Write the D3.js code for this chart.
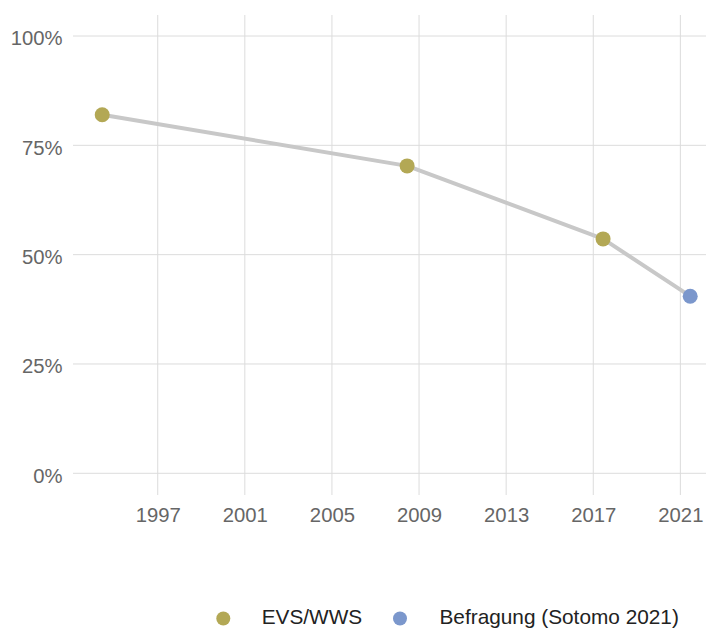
<!DOCTYPE html>
<html>
<head>
<meta charset="utf-8">
<script src="https://cdn.jsdelivr.net/npm/d3@7/dist/d3.min.js"></script>
<style>
  html, body { margin: 0; padding: 0; background: #fff; }
  svg { display: block; font-family: "Liberation Sans", Arial, Helvetica, sans-serif; }
</style>
</head>
<body>
<svg id="chart" width="706" height="629"></svg>
<script>
// Survey dates, shares and source of each measurement
const dates = ["1994-06-15", "2008-06-15", "2017-06-15", "2021-06-15"];
const shares = [0.82, 0.703, 0.536, 0.405];
const sources = ["EVS/WWS", "EVS/WWS", "EVS/WWS", "Befragung (Sotomo 2021)"];

const seriesNames = ["EVS/WWS", "Befragung (Sotomo 2021)"];
const seriesColors = ["#b3a855", "#7b97cc"];

const yearTicks = [1997, 2001, 2005, 2009, 2013, 2017, 2021];
const shareTicks = [0, 0.25, 0.5, 0.75, 1];

const parse = d3.timeParse("%Y-%m-%d");
const points = dates.map((d, i) => ({ date: parse(d), value: shares[i], source: sources[i] }));

const svg = d3.select("#chart");
const plot = { left: 73, right: 706, top: 36, bottom: 473.3 };

const x = d3.scaleTime()
  .domain([new Date(1993, 1, 10), new Date(2022, 2, 7)])
  .range([plot.left, plot.right]);
const y = d3.scaleLinear().domain([0, 1]).range([plot.bottom, plot.top]);
const color = d3.scaleOrdinal().domain(seriesNames).range(seriesColors);

// Horizontal gridlines
svg.append("g")
  .selectAll("line")
  .data(shareTicks)
  .join("line")
  .attr("x1", plot.left).attr("x2", plot.right)
  .attr("y1", d => y(d)).attr("y2", d => y(d))
  .attr("stroke", "#dcdcdc").attr("stroke-width", 1);

// Vertical gridlines
svg.append("g")
  .selectAll("line")
  .data(yearTicks)
  .join("line")
  .attr("x1", d => x(new Date(d, 0, 1))).attr("x2", d => x(new Date(d, 0, 1)))
  .attr("y1", 15).attr("y2", 495)
  .attr("stroke", "#dcdcdc").attr("stroke-width", 1);

// Y axis labels
const yAxis = d3.axisLeft(y)
  .tickValues(shareTicks)
  .tickFormat(d3.format(".0%"))
  .tickSize(0)
  .tickPadding(0);
svg.append("g")
  .attr("transform", "translate(62.5,2.3)")
  .call(yAxis)
  .call(g => g.select(".domain").remove())
  .call(g => g.selectAll("text")
    .attr("fill", "#666")
    .attr("font-size", 20.3)
    .attr("font-family", "Liberation Sans, Arial, sans-serif"));

// X axis labels
const xAxis = d3.axisBottom(x)
  .tickValues(yearTicks.map(t => new Date(t, 0, 1)))
  .tickFormat(d3.timeFormat("%Y"))
  .tickSize(0)
  .tickPadding(0);
svg.append("g")
  .attr("transform", "translate(0,508)")
  .call(xAxis)
  .call(g => g.select(".domain").remove())
  .call(g => g.selectAll("text")
    .attr("fill", "#666")
    .attr("font-size", 20.3)
    .attr("font-family", "Liberation Sans, Arial, sans-serif"));

// Connecting line
const line = d3.line().x(d => x(d.date)).y(d => y(d.value));
svg.append("path")
  .datum(points)
  .attr("d", line)
  .attr("fill", "none")
  .attr("stroke", "#c8c8c8")
  .attr("stroke-width", 4)
  .attr("stroke-linejoin", "round");

// Data points
svg.append("g")
  .selectAll("circle")
  .data(points)
  .join("circle")
  .attr("cx", d => x(d.date))
  .attr("cy", d => y(d.value))
  .attr("r", 7.5)
  .attr("fill", d => color(d.source));

// Legend
const legendX = [223.3, 400];
const legendTextX = [261.7, 439.5];
const legend = svg.append("g")
  .selectAll("g")
  .data(seriesNames)
  .join("g");
legend.append("circle")
  .attr("cx", (d, i) => legendX[i])
  .attr("cy", 618.5)
  .attr("r", 7)
  .attr("fill", d => color(d));
legend.append("text")
  .attr("x", (d, i) => legendTextX[i])
  .attr("y", 624.3)
  .attr("fill", "#222")
  .attr("font-size", 20.8)
  .text(d => d);
</script>
</body>
</html>
